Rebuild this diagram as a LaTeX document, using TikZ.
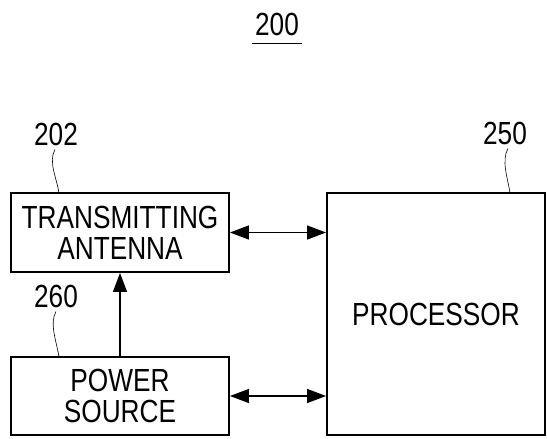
\documentclass[tikz,border=0pt]{standalone}
\usepackage{fontspec}
\setmainfont{Liberation Sans}
\newfontfamily\narrowfont[FakeStretch=0.82]{Liberation Sans}
\usetikzlibrary{arrows.meta}
\tikzset{blk/.style={draw,line width=1.9pt,inner sep=0pt,align=center,font=\narrowfont\fontsize{32}{35}\selectfont},
  num/.style={font=\narrowfont\fontsize{32}{35}\selectfont,inner sep=0pt},
  lead/.style={line width=0.6pt},
  con/.style={line width=1.3pt,{Triangle[length=19pt,width=14pt]}-{Triangle[length=19pt,width=14pt]}}}
\begin{document}
\begin{tikzpicture}[x=1pt,y=-1pt]
\useasboundingbox (0,0) rectangle (547,439);
\node[num] (fig) at (277,24) {200}; \draw[line width=1pt] (252,43) -- (302,43);
\node[blk,minimum width=218pt,minimum height=79pt] (tx) at (120,232.5) {TRANSMITTING\\[-4pt]ANTENNA};
\node[blk,minimum width=218pt,minimum height=78pt] (ps) at (120,396) {POWER\\[-4pt]SOURCE};
\node[blk,minimum width=218pt,minimum height=242pt] (proc) at (436,314) {PROCESSOR};
\node[num] (n202) at (56,134) {202};
\node[num] (n260) at (56,296) {260};
\node[num] (n250) at (505,133) {250};
\coordinate (t202) at (59,193); \coordinate (t260) at (59,357); \coordinate (t250) at (510,193);
\draw[lead] (n202.south) ++(-1,4) .. controls +(-7,12) and +(-2,-14) .. (t202);
\draw[lead] (n260.south) ++(0,4) .. controls +(-7,12) and +(-2,-14) .. (t260);
\draw[lead] (n250.south) ++(3,4) .. controls +(-7,12) and +(-2,-14) .. (t250);
\draw[con] (tx.east) -- (tx.east -| proc.west);
\draw[con] (ps.east) -- (ps.east -| proc.west);
\draw[line width=1.3pt,-{Triangle[length=19pt,width=14pt]}] (ps.north) -- (tx.south);
\end{tikzpicture}
\end{document}
